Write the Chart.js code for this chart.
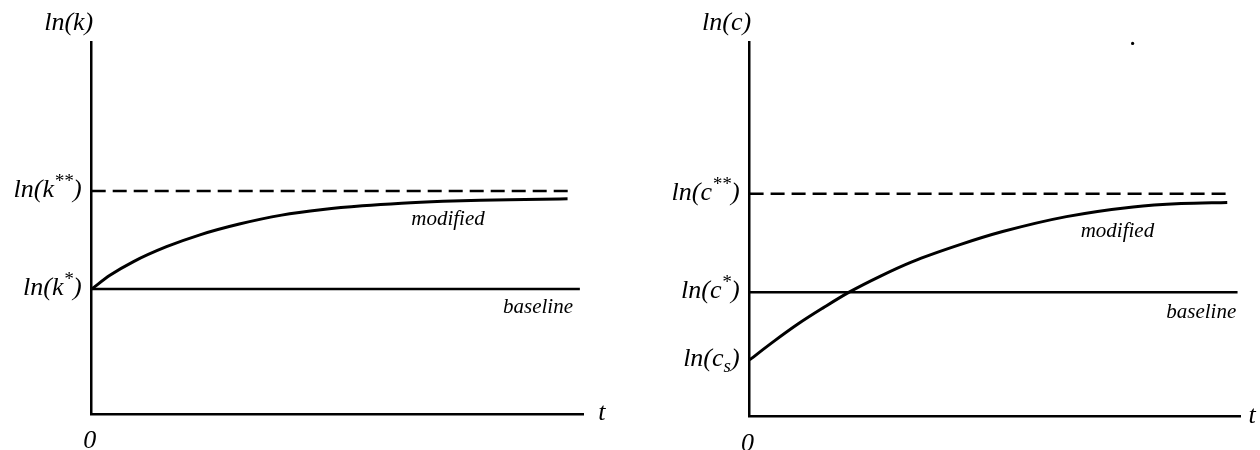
<!DOCTYPE html>
<html>
<head>
<meta charset="utf-8">
<script src="https://cdn.jsdelivr.net/npm/chart.js@4.4.0/dist/chart.umd.min.js"></script>
<style>
  body { margin: 0; background: #fff; }
  #wrap { position: relative; width: 1260px; height: 450px; }
  canvas { position: absolute; top: 0; }
</style>
</head>
<body>
<div id="wrap">
  <canvas id="kChart" width="630" height="450" style="left:0"></canvas>
  <canvas id="cChart" width="630" height="450" style="left:630px"></canvas>
</div>
<script>
// left panel: ln(k) over time
const tK = [0, 3.7, 8.5, 15.2, 22, 30, 38.6, 47, 55, 63, 71.4, 79, 88, 96.7];
const lnK = [33.7, 37.4, 41.1, 45.1, 48.3, 51.2, 53.6, 55.1, 56.1, 56.8, 57.3, 57.6, 57.8, 58.0];
const kStar = 33.7;      // ln(k*)
const kStarStar = 60.1;  // ln(k**)
const kBaseEnd = 99.2;
const kDashEnd = 98.0;
const kModifiedAt = [72.4, 52.6];
const kBaselineAt = [90.7, 28.9];

// right panel: ln(c) over time
const tC = [0, 5, 10, 15, 20.3, 26.7, 33.1, 42.9, 51.6, 64.6, 78.2, 88, 97.4];
const lnC = [15.2, 20.2, 24.9, 29.1, 33.3, 37.6, 41.4, 46.0, 49.5, 53.5, 56.1, 57.0, 57.3];
const cStar = 33.3;      // ln(c*)
const cStarStar = 59.6;  // ln(c**)
const cS = 15.2;         // ln(c_s)
const cBaseEnd = 99.5;
const cDashEnd = 98.3;
const cModifiedAt = [75, 49.7];
const cBaselineAt = [92.1, 28.0];
const strayDot = [78.1, 99.8];

const FONT = '"Liberation Serif", "Times New Roman", serif';

function pts(xs, ys) {
    return xs.map((x, i) => ({ x: x, y: ys[i] }));
}

// draws text made of pieces (normal / superscript / subscript), right aligned
function drawRich(ctx, parts, xRight, yMid) {
    let total = 0;
    parts.forEach(p => {
        ctx.font = 'italic ' + p[1] + 'px ' + FONT;
        total += ctx.measureText(p[0]).width;
    });
    let x = xRight - total;
    parts.forEach(p => {
        ctx.font = 'italic ' + p[1] + 'px ' + FONT;
        ctx.fillText(p[0], x, yMid + 6 + p[2]);
        x += ctx.measureText(p[0]).width;
    });
}

const labelsPlugin = {
    id: 'labels',
    afterDatasetsDraw(chart) {
        const ctx = chart.ctx;
        const xs = chart.scales.x, ys = chart.scales.y;
        const o = chart.options.plugins.labels;
        const area = chart.chartArea;
        ctx.save();
        ctx.fillStyle = '#000';
        ctx.textAlign = 'left';
        ctx.textBaseline = 'alphabetic';

        o.yLabels.forEach(l => {
            drawRich(ctx, l.parts, area.left - 10, ys.getPixelForValue(l.value));
        });

        // axis names
        ctx.font = 'italic 26px ' + FONT;
        ctx.textAlign = 'center';
        ctx.fillText(o.yName, area.left - 23, area.top - 13);
        ctx.fillText('0', area.left - 2, area.bottom + 34);
        ctx.fillText('t', area.right + o.tGap, area.bottom + 6);

        // series notes
        ctx.font = 'italic 21px ' + FONT;
        o.notes.forEach(n => {
            ctx.fillText(n.text, xs.getPixelForValue(n.at[0]), ys.getPixelForValue(n.at[1]) + 6);
        });
        ctx.restore();
    }
};

function makeChart(id, cfg) {
    return new Chart(document.getElementById(id), {
        type: 'line',
        data: {
            datasets: [
                {
                    data: [{ x: 0, y: cfg.upper }, { x: cfg.dashEnd, y: cfg.upper }],
                    borderColor: '#000', borderWidth: 2.5, borderDash: [14, 7], pointRadius: 0
                },
                {
                    data: [{ x: 0, y: cfg.base }, { x: cfg.baseEnd, y: cfg.base }],
                    borderColor: '#000', borderWidth: 2.5, pointRadius: 0
                },
                {
                    data: cfg.curve,
                    borderColor: '#000', borderWidth: 3, pointRadius: 0,
                    cubicInterpolationMode: 'monotone'
                },
                {
                    data: cfg.dots || [],
                    showLine: false, pointRadius: 1.6,
                    pointBackgroundColor: '#000', pointBorderWidth: 0
                }
            ]
        },
        options: {
            responsive: false,
            animation: false,
            devicePixelRatio: 1,
            layout: { padding: cfg.padding },
            clip: false,
            plugins: {
                legend: { display: false },
                tooltip: { enabled: false },
                labels: {
                    yLabels: cfg.yLabels,
                    yName: cfg.yName,
                    notes: cfg.notes,
                    tGap: cfg.tGap
                }
            },
            scales: {
                x: {
                    type: 'linear', min: 0, max: 100,
                    grid: { display: false },
                    ticks: { display: false },
                    border: { display: true, color: '#000', width: 2.5 },
                    afterFit: s => { s.height = 0; }
                },
                y: {
                    type: 'linear', min: 0, max: 100,
                    grid: { display: false },
                    ticks: { display: false },
                    border: { display: true, color: '#000', width: 2.5 },
                    afterFit: s => { s.width = 0; }
                }
            }
        },
        plugins: [labelsPlugin]
    });
}

makeChart('kChart', {
    curve: pts(tK, lnK),
    base: kStar, upper: kStarStar,
    baseEnd: kBaseEnd, dashEnd: kDashEnd,
    padding: { left: 91.7, right: 46.2, top: 42.7, bottom: 35.7 },
    yName: 'ln(k)',
    tGap: 18,
    yLabels: [
        { value: kStarStar, parts: [['ln(k', 26, 0], ['**', 19, -10], [')', 26, 0]] },
        { value: kStar, parts: [['ln(k', 26, 0], ['*', 19, -10], [')', 26, 0]] }
    ],
    notes: [
        { text: 'modified', at: kModifiedAt },
        { text: 'baseline', at: kBaselineAt }
    ]
});

makeChart('cChart', {
    curve: pts(tC, lnC),
    base: cStar, upper: cStarStar,
    baseEnd: cBaseEnd, dashEnd: cDashEnd,
    dots: [{ x: strayDot[0], y: strayDot[1] }],
    padding: { left: 119.6, right: 20, top: 42.7, bottom: 33.3 },
    yName: 'ln(c)',
    tGap: 12,
    yLabels: [
        { value: cStarStar, parts: [['ln(c', 26, 0], ['**', 19, -10], [')', 26, 0]] },
        { value: cStar, parts: [['ln(c', 26, 0], ['*', 19, -10], [')', 26, 0]] },
        { value: cS, parts: [['ln(c', 26, 0], ['s', 19, 6], [')', 26, 0]] }
    ],
    notes: [
        { text: 'modified', at: cModifiedAt },
        { text: 'baseline', at: cBaselineAt }
    ]
});
</script>
</body>
</html>
